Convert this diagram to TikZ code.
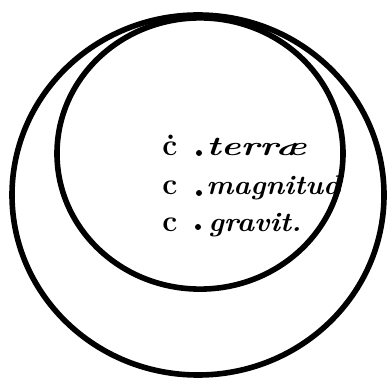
\documentclass[tikz,border=0pt]{standalone}
\usepackage{graphicx}
\usetikzlibrary{positioning}

\begin{document}
\begin{tikzpicture}[x=0.5pt, y=-0.5pt,
    rim/.style={line width=2.8pt},
    word/.style={anchor=base west, inner sep=0pt, font=\fontsize{13.5}{15}\selectfont\bfseries\itshape},
    letter/.style={anchor=base west, inner sep=0pt, font=\fontsize{15}{17}\selectfont\bfseries},
    spot/.style={circle, fill, inner sep=0pt, minimum size=3pt}]
    % 1. Fix the frame of the picture
    \useasboundingbox (0,0) rectangle (389,378);

    % 2. Draw the outer and the inner circle
    \draw[rim] (198,195) ellipse [x radius=93pt, y radius=90pt];
    \draw[rim] (200,153.5) ellipse [x radius=71.5pt, y radius=67.8pt];

    % 3. The three centres, each with its letter
    \node[letter] (cterrae) at (162,156) {\.c};
    \node[letter] (cmagnitud) at (162,195) {c};
    \node[letter] (cgravit) at (162,232) {c};

    \node[spot] (pterrae) at (199,153) {};
    \node[spot] (pmagnitud) at (199,193) {};
    \node[spot] (pgravit) at (198,227) {};

    % 4. The words beside the dots
    \node[word] (terrae) at (206,156) {\scalebox{1.38}[1]{terr\ae}};
    \node[word] (magnitud) at (206,195) {\scalebox{1.06}[1]{magnitud}};
    \node[word] (gravit) at (208,232) {\scalebox{1.08}[1]{gravit.}};
\end{tikzpicture}
\end{document}
